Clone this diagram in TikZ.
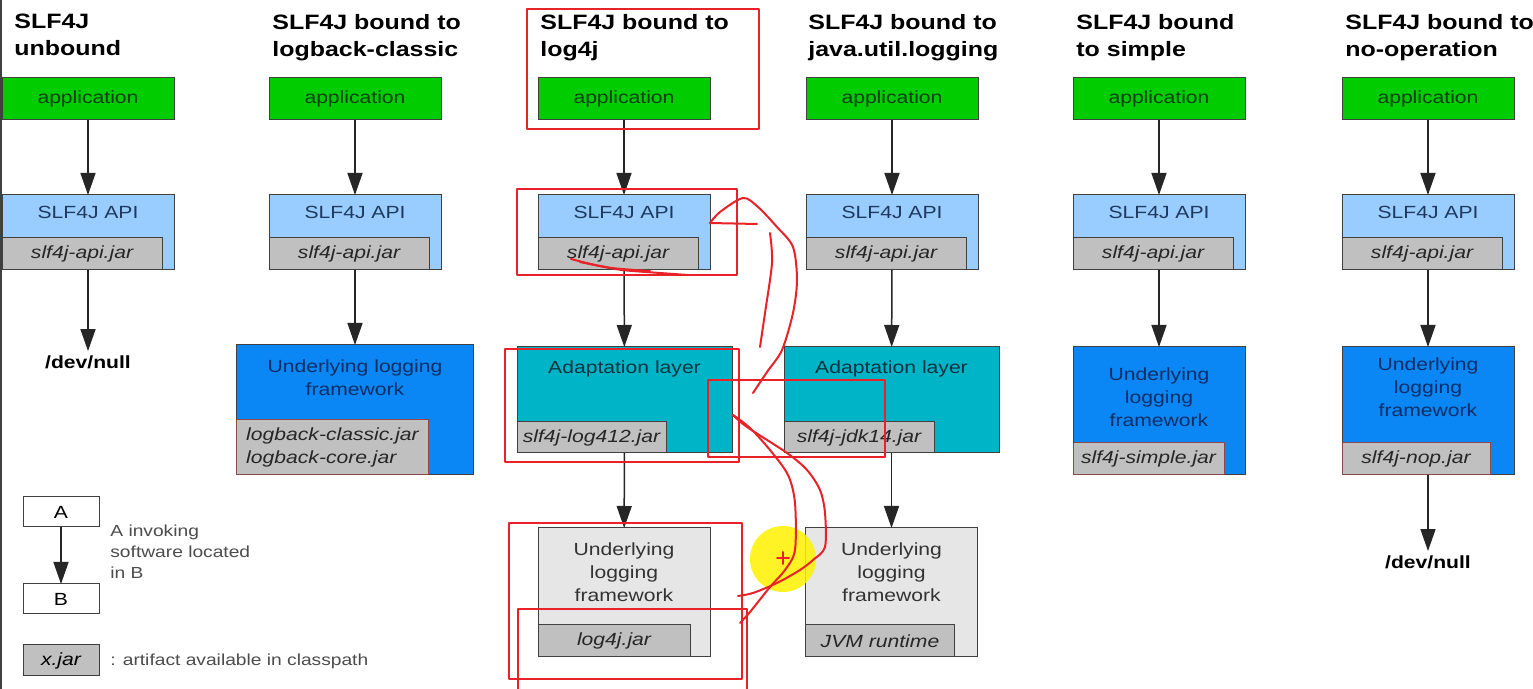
\documentclass[tikz,border=0pt]{standalone}
\usepackage{fontspec}
\setmainfont{Liberation Sans}[FakeStretch=1.2]
\usetikzlibrary{arrows.meta,
                positioning
                }
\definecolor{appgreen}{HTML}{00CC00}
\definecolor{apptext}{HTML}{0B3F0B}
\definecolor{apiblue}{HTML}{99CCFF}
\definecolor{apitext}{HTML}{1F3A5F}
\definecolor{jargray}{HTML}{C0C0C0}
\definecolor{jarred}{HTML}{8A4A4A}
\definecolor{ulfblue}{HTML}{0A86F5}
\definecolor{ulftext}{HTML}{0A2E66}
\definecolor{adpteal}{HTML}{00B4C8}
\definecolor{adptext}{HTML}{08323E}
\definecolor{ulfgray}{HTML}{E6E6E6}
\definecolor{annred}{HTML}{E82228}

\begin{document}
\begin{tikzpicture}[x=0.5pt, y=-0.5pt,
node distance = 0pt,
    BX/.style = {draw=black!75, line width=0.5pt, inner sep=0pt, outer sep=0pt},
   APP/.style = {BX, fill=appgreen, minimum width=86pt, minimum height=21pt,
                 text=apptext, font=\fontsize{8.8}{11.5}\selectfont},
   API/.style = {BX, fill=apiblue, minimum width=86pt, minimum height=37.5pt},
   JAR/.style = {BX, fill=jargray, anchor=south west, minimum height=16pt,
                 text=black!85, font=\fontsize{8.8}{11.5}\selectfont\itshape},
   ADP/.style = {BX, fill=adpteal, minimum width=107.5pt, minimum height=53pt},
   ULF/.style = {BX, fill=ulfblue, minimum width=86pt, minimum height=64pt},
   ULG/.style = {BX, fill=ulfgray, minimum width=86pt, minimum height=64.5pt},
   TXT/.style = {inner sep=0pt, align=center, font=\fontsize{8.8}{11.5}\selectfont},
   TTL/.style = {anchor=north west, inner sep=0pt, align=left,
                 font=\fontsize{10.4}{13.5}\selectfont\bfseries},
   NUL/.style = {inner sep=2pt, font=\fontsize{8.8}{11.5}\selectfont\bfseries},
   LEG/.style = {inner sep=0pt, align=left, text=black!70,
                 font=\fontsize{8}{10.5}\selectfont},
    AR/.style = {draw=black!85, line width=0.75pt,
                 -{Triangle[width=7.5pt,length=11pt]}},
    RD/.style = {draw=annred, line width=1pt, line cap=round, line join=round},
                        ]
\useasboundingbox (0,0) rectangle (1533,689);
\fill[white] (0,0) rectangle (1533,689);
\draw[black!75, line width=1pt] (1,0) -- (1,689);
% titles
\node[TTL] (t1) at (14,14)   {SLF4J\\unbound};
\node[TTL] (t2) at (272,14)  {SLF4J bound to\\logback-classic};
\node[TTL] (t3) at (540,14)  {SLF4J bound to\\log4j};
\node[TTL] (t4) at (808,14)  {SLF4J bound to\\java.util.logging};
\node[TTL] (t5) at (1076,14) {SLF4J bound\\to simple};
\node[TTL] (t6) at (1345,14) {SLF4J bound to\\no-operation};
% application and SLF4J API
\foreach \i/\x in {1/88, 2/355, 3/624, 4/892, 5/1159, 6/1428}
{
\node[APP] (app\i) at (\x,99) {application};
\node[API] (api\i) at (\x,232.5) {};
\node[TXT, text=apitext, below=5.5pt of api\i.north] (apil\i) {SLF4J API};
\node[JAR, minimum width=80pt] (apij\i) at (api\i.south west) {slf4j-api.jar};
\draw[AR] (app\i) -- (api\i);
}
% unbound
\node[NUL] (nul1) at (88,362) {/dev/null};
\draw[AR] (api1) -- (nul1);
% logback
\node[ULF, minimum width=118.5pt, minimum height=65pt] (ulf2) at (355,410) {};
\node[TXT, text=ulftext, below=7pt of ulf2.north] (ulfl2) {Underlying logging\\framework};
\node[JAR, draw=jarred, minimum width=96pt, minimum height=27.5pt, align=left]
    (ulfj2) at (ulf2.south west) {logback-classic.jar\\logback-core.jar};
\draw[AR] (api2) -- (ulf2);
% log4j
\node[ADP] (adp3) at (624.5,400) {};
\node[TXT, text=adptext, below=6.5pt of adp3.north] (adpl3) {Adaptation layer};
\node[JAR, minimum width=74.5pt, minimum height=15.5pt] (adpj3) at (adp3.south west) {slf4j-log412.jar};
\node[ULG] (ulg3) at (624,592.5) {};
\node[TXT, text=black!80, below=7pt of ulg3.north] (ulgl3) {Underlying\\logging\\framework};
\node[JAR, minimum width=76pt] (ulgj3) at (ulg3.south west) {log4j.jar};
\draw[AR] (api3) -- (adp3);
\draw[AR] (adp3) -- (ulg3);
% java.util.logging
\node[ADP] (adp4) at (891.5,400) {};
\node[TXT, text=adptext, below=6.5pt of adp4.north] (adpl4) {Adaptation layer};
\node[JAR, minimum width=75pt, minimum height=15.5pt] (adpj4) at (adp4.south west) {slf4j-jdk14.jar};
\node[ULG] (ulg4) at (891.5,592.5) {};
\node[TXT, text=black!80, below=7pt of ulg4.north] (ulgl4) {Underlying\\logging\\framework};
\node[JAR, minimum width=74.5pt] (ulgj4) at (ulg4.south west) {JVM runtime};
\draw[AR] (api4) -- (adp4);
\draw[AR] (adp4) -- (ulg4);
% simple
\node[ULF] (ulf5) at (1159,411) {};
\node[TXT, text=ulftext, below=10pt of ulf5.north] (ulfl5) {Underlying\\logging\\framework};
\node[JAR, draw=jarred, minimum width=75.5pt] (ulfj5) at (ulf5.south west) {slf4j-simple.jar};
\draw[AR] (api5) -- (ulf5);
% no-operation
\node[ULF] (ulf6) at (1428,411) {};
\node[TXT, text=ulftext, below=5pt of ulf6.north] (ulfl6) {Underlying\\logging\\framework};
\node[JAR, draw=jarred, minimum width=74pt] (ulfj6) at (ulf6.south west) {slf4j-nop.jar};
\node[NUL] (nul6) at (1428,562) {/dev/null};
\draw[AR] (api6) -- (ulf6);
\draw[AR] (ulf6) -- (nul6);
% legend
\node[BX, fill=white, minimum width=38pt, minimum height=15pt, font=\fontsize{8.8}{11}\selectfont]
    (la) at (61,512) {A};
\node[BX, fill=white, minimum width=38pt, minimum height=15pt, font=\fontsize{8.8}{11}\selectfont]
    (lb) at (61,599) {B};
\draw[AR] (la) -- (lb);
\node[LEG, anchor=north west] (ll1) at (110,525) {A invoking\\software located\\in B};
\node[BX, fill=jargray, minimum width=38pt, minimum height=15.5pt,
      font=\fontsize{8.8}{11}\selectfont\itshape] (lx) at (61,660.5) {x.jar};
\node[LEG, anchor=west] (ll2) at (110,661) {: artifact available in classpath};
% annotations
\fill[yellow, opacity=0.85] (783,559) circle (33);
\draw[RD] (527,9) rectangle (759,129);
\draw[RD] (517,189) rectangle (737,275);
\draw[RD] (505,349) rectangle (739,462);
\draw[RD] (708,380) rectangle (885,457);
\draw[RD] (509,523) rectangle (742,679);
\draw[RD] (518,609) -- (518,690) (518,609) -- (747,609) -- (747,690);
\draw[RD] plot[smooth] coordinates {(571,259) (595,265) (622,270) (660,273) (688,275)};
\draw[RD] plot[smooth] coordinates {(580,262) (612,268) (650,271)};
\draw[RD] (710,223) -- (757,224);
\draw[RD] plot[smooth] coordinates {(710,223) (720,212) (743,198) (758,207) (777,227)
    (793,247) (797,280) (793,313) (782,350) (767,372) (753,393)};
\draw[RD] plot[smooth] coordinates {(770,233) (772,263) (765,313) (760,347)};
\draw[RD] plot[smooth] coordinates {(733,415) (750,428) (770,450) (788,475)
    (795,503) (795,550) (785,570) (770,587) (750,612) (740,623)};
\draw[RD] plot[smooth] coordinates {(733,415) (747,427) (787,453) (807,470) (820,490)
    (825,513) (825,547) (813,560) (800,570) (777,583) (753,593) (738,596)};
\draw[RD] (777,558) -- (789,558) (783,552) -- (783,564);
\end{tikzpicture}
\end{document}
